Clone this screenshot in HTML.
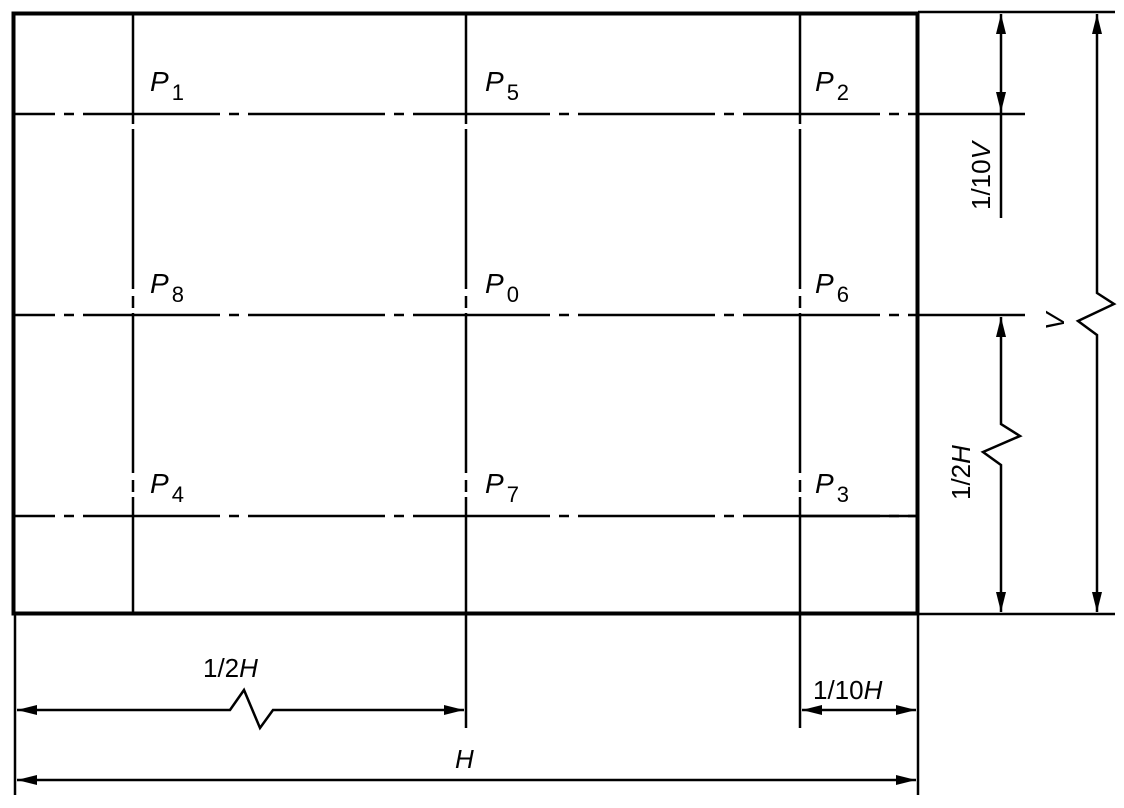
<!DOCTYPE html>
<html><head><meta charset="utf-8"><style>
html,body{margin:0;padding:0;background:#fff;}
svg{display:block;}
text{font-family:"Liberation Sans",sans-serif;fill:#000;}
.l{font-size:28px;font-style:italic;}
.s{font-size:22px;}
.d{font-size:26px;}
</style></head><body>
<svg width="1124" height="808" viewBox="0 0 1124 808" xmlns="http://www.w3.org/2000/svg">
<defs>
<marker id="a" viewBox="0 0 20 12" refX="20" refY="6" markerWidth="20" markerHeight="12" markerUnits="userSpaceOnUse" orient="auto-start-reverse">
<path d="M0,1 L20,6 L0,11 Z" fill="#000"/>
</marker>
</defs>
<g stroke="#000" stroke-width="2.5" fill="none">
<line x1="15" y1="114" x2="918" y2="114" stroke-dasharray="137 9 10 9" stroke-dashoffset="97"/>
<line x1="15" y1="315" x2="918" y2="315" stroke-dasharray="137 9 10 9" stroke-dashoffset="97"/>
<line x1="15" y1="516" x2="918" y2="516" stroke-dasharray="137 9 10 9" stroke-dashoffset="97"/>
<line x1="800" y1="516" x2="918" y2="516"/>
<line x1="133" y1="12" x2="133" y2="114"/>
<line x1="466" y1="12" x2="466" y2="114"/>
<line x1="800" y1="12" x2="800" y2="114"/>
<line x1="133" y1="114" x2="133" y2="516" stroke-dasharray="160 7 12 5" stroke-dashoffset="-15"/>
<line x1="466" y1="114" x2="466" y2="516" stroke-dasharray="160 7 12 5" stroke-dashoffset="-15"/>
<line x1="800" y1="114" x2="800" y2="516" stroke-dasharray="160 7 12 5" stroke-dashoffset="-15"/>
<line x1="133" y1="516" x2="133" y2="614"/>
<line x1="466" y1="516" x2="466" y2="728"/>
<line x1="800" y1="516" x2="800" y2="728"/>
<line x1="918" y1="12" x2="1115" y2="12"/>
<line x1="918" y1="114" x2="1025" y2="114"/>
<line x1="918" y1="315" x2="1025" y2="315"/>
<line x1="918" y1="614" x2="1115" y2="614"/>
<line x1="15" y1="614" x2="15" y2="795"/>
<line x1="918" y1="614" x2="918" y2="795"/>
<rect x="13.5" y="13.5" width="904" height="600" stroke-width="4"/>
<line x1="1001" y1="14" x2="1001" y2="112" marker-start="url(#a)" marker-end="url(#a)"/>
<line x1="1001" y1="112" x2="1001" y2="218"/>
<polyline points="1001,317 1001,424 1020,436 983,452 1001,465 1001,612" marker-start="url(#a)" marker-end="url(#a)"/>
<polyline points="1097,14 1097,293 1114,304 1078,321 1097,335 1097,612" marker-start="url(#a)" marker-end="url(#a)"/>
<polyline points="17,710 230,710 244,690 260,728 273,710 464,710" marker-start="url(#a)" marker-end="url(#a)"/>
<line x1="802" y1="710" x2="916" y2="710" marker-start="url(#a)" marker-end="url(#a)"/>
<line x1="17" y1="780" x2="916" y2="780" marker-start="url(#a)" marker-end="url(#a)"/>
</g>
<text class="l" x="150" y="91">P<tspan class="s" font-style="normal" dx="3" dy="9">1</tspan></text>
<text class="l" x="485" y="91">P<tspan class="s" font-style="normal" dx="3" dy="9">5</tspan></text>
<text class="l" x="815" y="91">P<tspan class="s" font-style="normal" dx="3" dy="9">2</tspan></text>
<text class="l" x="150" y="293">P<tspan class="s" font-style="normal" dx="3" dy="9">8</tspan></text>
<text class="l" x="485" y="293">P<tspan class="s" font-style="normal" dx="3" dy="9">0</tspan></text>
<text class="l" x="815" y="293">P<tspan class="s" font-style="normal" dx="3" dy="9">6</tspan></text>
<text class="l" x="150" y="493">P<tspan class="s" font-style="normal" dx="3" dy="9">4</tspan></text>
<text class="l" x="485" y="493">P<tspan class="s" font-style="normal" dx="3" dy="9">7</tspan></text>
<text class="l" x="815" y="493">P<tspan class="s" font-style="normal" dx="3" dy="9">3</tspan></text>
<text class="d" x="203" y="677">1/2<tspan font-style="italic">H</tspan></text>
<text class="d" x="813" y="699">1/10<tspan font-style="italic">H</tspan></text>
<text class="d" x="455" y="768" font-style="italic">H</text>
<text class="d" transform="translate(990,210) rotate(-90)">1/10<tspan font-style="italic">V</tspan></text>
<text class="d" transform="translate(970,500) rotate(-90)">1/2<tspan font-style="italic">H</tspan></text>
<text class="d" transform="translate(1064,330) rotate(-90)" font-style="italic">V</text>
</svg>
</body></html>
